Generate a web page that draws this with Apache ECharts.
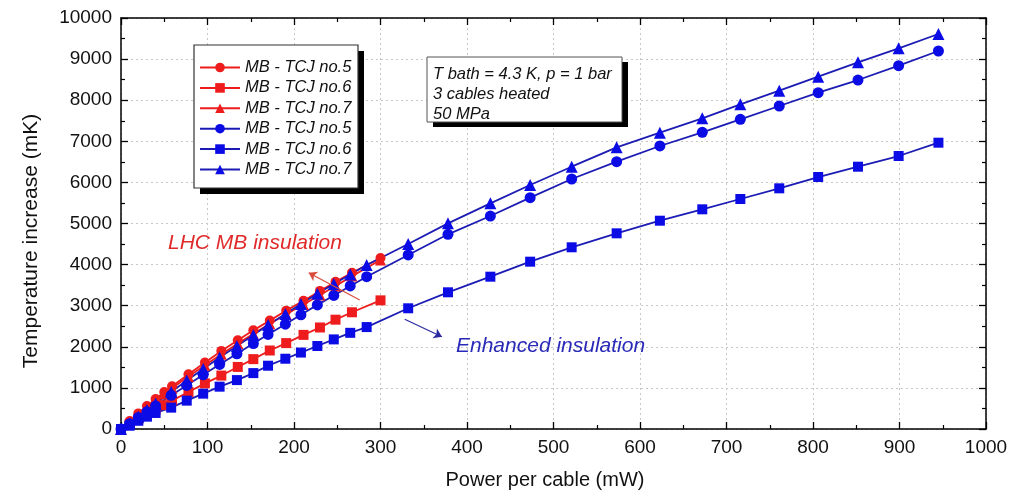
<!DOCTYPE html>
<html><head><meta charset="utf-8">
<script src="https://cdn.jsdelivr.net/npm/echarts@6/dist/echarts.min.js"></script>
<style>html,body{margin:0;padding:0;background:#fff}#c{width:1021px;height:495px}</style>
</head><body><div id="c"></div>
<script>
// ---- data ----
var redX = [0,10,20,30,40,50,59,78,97,116,135,153,172,191,211,230,248,267,300];
var redNo5 = [0,195,380,560,730,900,1040,1330,1620,1900,2160,2400,2640,2880,3120,3360,3580,3800,4160];
var redNo6 = [0,120,240,360,470,580,690,900,1110,1300,1510,1700,1910,2090,2290,2470,2660,2840,3130];
var redNo7 = [0,180,350,520,690,850,990,1280,1550,1820,2080,2320,2560,2790,3030,3260,3480,3720,4110];
var blueX = [0,10,20,30,40,58,76,95,114,134,153,170,190,208,227,246,265,284,332,378,427,473,521,573,623,672,716,761,806,852,899,945];
var blueNo5 = [0,130,280,420,560,820,1060,1320,1570,1830,2080,2300,2550,2780,3020,3250,3480,3706,4234,4737,5182,5628,6083,6504,6886,7218,7535,7859,8183,8491,8840,9197];
var blueNo6 = [0,80,200,300,390,520,690,860,1030,1190,1360,1540,1710,1860,2020,2180,2340,2480,2937,3326,3706,4071,4421,4761,5068,5345,5596,5856,6131,6382,6642,6966];
var blueNo7 = [0,140,300,460,620,900,1180,1460,1740,2020,2290,2530,2800,3040,3290,3530,3760,3990,4501,5004,5491,5937,6382,6854,7210,7560,7900,8231,8572,8921,9263,9611];
var legendNames = ['MB - TCJ no.5','MB - TCJ no.6','MB - TCJ no.7','MB - TCJ no.5','MB - TCJ no.6','MB - TCJ no.7'];
var xTitle = 'Power per cable (mW)';
var yTitle = 'Temperature increase (mK)';
var infoLines = ['T bath = 4.3 K, p = 1 bar','3 cables heated','50 MPa'];
var redArrow = [[276,3139],[217,3803]];
var blueArrow = [[328,2669],[371,2246]];

function pairs(xs, ys){ return xs.map(function(x,i){return [x, ys[i]];}); }

var RED = '#ee1c1c', BLUE = '#0b0be6', BLUELINE = '#1c1cb4';
var font = 'Arial, "Liberation Sans", sans-serif';
var ids = ['r5','r6','r7','b5','b6','b7'];

function mk(id, xs, ys, sym, col, lineCol, size, extra){
  var s = {
    id: id, name: id, type: 'line', data: pairs(xs, ys),
    symbol: sym, symbolSize: size, showSymbol: true,
    itemStyle: {color: col},
    lineStyle: {color: lineCol, width: 1.8},
    z: 3
  };
  if (extra) for (var k in extra) s[k] = extra[k];
  return s;
}

var chart = echarts.init(document.getElementById('c'), null, {renderer:'canvas'});
var axisLine = {show:true, onZero:false, lineStyle:{color:'#000', width:1.5}};
var plain = function(v){ return String(v); };
var option = {
  animation: false,
  backgroundColor: '#fff',
  grid: {left:121, right:35, top:18, bottom:66, show:false},
  xAxis: [{
    type:'value', min:0, max:1000, interval:100, position:'bottom',
    axisLine: axisLine,
    axisTick:{show:true, inside:true, length:7, lineStyle:{color:'#000', width:1.3}},
    minorTick:{show:true, splitNumber:2, length:4, lineStyle:{color:'#000', width:1.2}},
    axisLabel:{fontFamily:font, fontSize:19, color:'#111', margin:9, formatter:plain},
    splitLine:{show:true, lineStyle:{color:'#c8c8c8', type:[2,3], width:1}}
  },{
    type:'value', min:0, max:1000, interval:100, position:'top',
    axisLine: axisLine,
    axisTick:{show:true, inside:true, length:7, lineStyle:{color:'#000', width:1.3}},
    minorTick:{show:true, splitNumber:2, length:4, lineStyle:{color:'#000', width:1.2}},
    axisLabel:{show:false}, splitLine:{show:false}
  }],
  yAxis: [{
    type:'value', min:0, max:10000, interval:1000, position:'left',
    axisLine: axisLine,
    axisTick:{show:true, inside:true, length:7, lineStyle:{color:'#000', width:1.3}},
    minorTick:{show:true, splitNumber:2, length:4, lineStyle:{color:'#000', width:1.2}},
    axisLabel:{fontFamily:font, fontSize:19, color:'#111', margin:9, formatter:plain},
    splitLine:{show:true, lineStyle:{color:'#c8c8c8', type:[2,3], width:1}}
  },{
    type:'value', min:0, max:10000, interval:1000, position:'right',
    axisLine: axisLine,
    axisTick:{show:true, inside:true, length:7, lineStyle:{color:'#000', width:1.3}},
    minorTick:{show:true, splitNumber:2, length:4, lineStyle:{color:'#000', width:1.2}},
    axisLabel:{show:false}, splitLine:{show:false}
  }],
  legend: {
    orient:'vertical', left:199, top:59, itemWidth:40, itemHeight:12, itemGap:3.4,
    padding:0, data: ids, z: 20,
    formatter: function(n){ return legendNames[ids.indexOf(n)]; },
    textStyle:{fontFamily:font, fontSize:16.5, fontStyle:'italic', color:'#111'}
  },
  graphic: [
    {type:'rect', shape:{x:200, y:51, width:164, height:143}, style:{fill:'#000'}, z:10},
    {type:'rect', shape:{x:194, y:45, width:164, height:143}, style:{fill:'#fff', stroke:'#333', lineWidth:1.2}, z:11},
    {type:'rect', shape:{x:433, y:62, width:195, height:65}, style:{fill:'#000'}, z:10},
    {type:'rect', shape:{x:427, y:57, width:195, height:65}, style:{fill:'#fff', stroke:'#555', lineWidth:1}, z:11},
    {type:'text', x:433, y:74, z:12, style:{text:infoLines[0], font:'italic 16.5px '+font, fill:'#111', verticalAlign:'middle'}},
    {type:'text', x:433, y:94, z:12, style:{text:infoLines[1], font:'italic 16.5px '+font, fill:'#111', verticalAlign:'middle'}},
    {type:'text', x:433, y:114, z:12, style:{text:infoLines[2], font:'italic 16.5px '+font, fill:'#111', verticalAlign:'middle'}},
    {type:'text', x:168, y:243, z:12, style:{text:'LHC MB insulation', font:'italic 21px '+font, fill:'#e02a2a', verticalAlign:'middle'}},
    {type:'text', x:456, y:346, z:12, style:{text:'Enhanced insulation', font:'italic 21px '+font, fill:'#2a2ab8', verticalAlign:'middle'}},
    {type:'text', x:545, y:480, z:12, style:{text:xTitle, font:'20px '+font, fill:'#111', align:'center', verticalAlign:'middle'}},
    {type:'text', x:31, y:241, rotation:Math.PI/2, z:12, style:{text:yTitle, font:'21px '+font, fill:'#111', align:'center', verticalAlign:'middle'}}
  ],
  series: [
    mk('r5', redX, redNo5, 'circle', RED, RED, 10, {markLine:{
      silent:true, symbol:['none','arrow'], symbolSize:8, label:{show:false},
      lineStyle:{color:'#d84a3a', width:1.2, type:'solid'},
      data:[[{coord:redArrow[0]},{coord:redArrow[1]}]]}}),
    mk('r6', redX, redNo6, 'rect', RED, RED, 10),
    mk('r7', redX, redNo7, 'triangle', RED, RED, 11),
    mk('b5', blueX, blueNo5, 'circle', BLUE, BLUELINE, 11, {markLine:{
      silent:true, symbol:['none','arrow'], symbolSize:8, label:{show:false},
      lineStyle:{color:'#2a2aa0', width:1.2, type:'solid'},
      data:[[{coord:blueArrow[0]},{coord:blueArrow[1]}]]}}),
    mk('b6', blueX, blueNo6, 'rect', BLUE, BLUELINE, 10),
    mk('b7', blueX, blueNo7, 'triangle', BLUE, BLUELINE, 12)
  ]
};
chart.setOption(option);
</script></body></html>
